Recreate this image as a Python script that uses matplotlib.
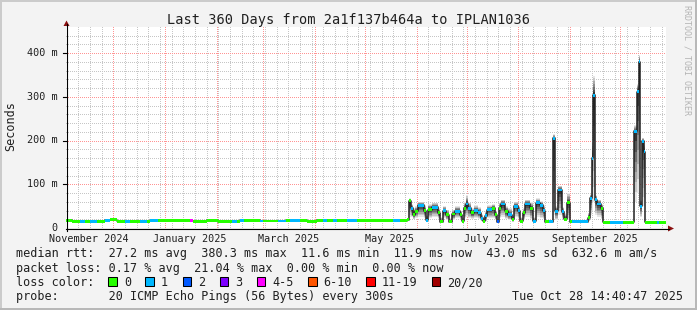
import datetime as dt
import numpy as np
import matplotlib
matplotlib.use('Agg')
import matplotlib.pyplot as plt
from matplotlib.patches import Rectangle, Polygon
from matplotlib import transforms

W, H = 697, 310
start = dt.datetime(2024, 11, 2, 14, 40, 47)
span_days = 360
y_top = 460

# median rtt per segment (segment start in days since start), values in ms
seg_day = [0, 3.6, 8.4, 11.4, 14.4, 18.6, 23.4, 26.4, 30.6, 35.4, 38.4, 44.4, 48.6, 50.4,
           55.2, 69.6, 74.4, 76.2, 84.6, 91.2, 98.4, 99.6, 102.6, 104.4, 106.8, 116.4, 118.2,
           127.2, 132.0, 134.4, 140.4, 144.6, 150.6, 154.2, 156.6, 160.2, 162.6, 168.6, 174.6,
           196.2, 200.4, 204.6,
           205.8, 207.0, 208.2, 209.4, 211.2, 214.8, 216.0, 217.2, 219.6, 223.2, 224.4, 226.2,
           228.0, 229.8, 231.6, 233.4, 236.4, 237.6, 238.8, 240.0, 241.2, 243.0, 244.8, 247.2,
           249.0, 250.2, 251.4, 252.6, 255.6, 257.4, 258.6, 259.8, 261.0, 263.4, 265.2, 267.6,
           268.8, 271.2, 272.4, 274.2, 275.4, 278.4, 280.2, 282.0, 284.4, 286.2, 287.4, 289.8,
           292.2, 293.4, 295.2, 297.6, 298.8, 300.6, 302.4, 303.6, 313.2, 314.4, 315.6, 316.2,
           317.4, 318.6, 321.0, 322.2, 326.4, 334.2, 340.8, 342.6, 343.8, 344.4, 345.6, 346.8,
           347.4, 354.6, 355.8]
seg_median = [18, 15, 15, 15, 15, 15, 18, 19, 15, 15, 15, 15, 15, 18,
              18, 17, 17, 15, 18, 14, 15, 15, 15, 18, 18, 16, 16,
              16, 18, 18, 18, 15, 18, 18, 18, 18, 18, 18, 17,
              17, 17, 19,
              62, 45, 30, 38, 52, 40, 18, 42, 47, 35, 14, 40,
              30, 14, 32, 38, 30, 15, 45, 55, 45, 35, 40, 35,
              22, 15, 28, 42, 45, 30, 14, 45, 55, 38, 30, 20,
              50, 40, 15, 35, 55, 45, 15, 58, 52, 40, 14, 14,
              205, 38, 87, 37, 20, 58, 14, 14, 24, 68, 160, 304,
              65, 55, 45, 13, 13, 13, 221, 312, 381, 50, 198, 175,
              13, 13, 13]
seg_smoke_hi = [19, 16, 16, 16, 16, 16, 19, 20, 16, 16, 16, 16, 16, 19,
                19, 18, 18, 16, 19, 15, 16, 16, 16, 19, 19, 17, 17,
                17, 19, 19, 19, 16, 19, 19, 19, 19, 19, 19, 18,
                18, 18, 20,
                68, 55, 45, 50, 60, 52, 30, 55, 58, 45, 25, 50,
                42, 22, 42, 50, 40, 25, 60, 75, 58, 45, 52, 48,
                32, 25, 38, 52, 55, 40, 22, 58, 65, 50, 45, 30,
                60, 50, 25, 45, 65, 60, 25, 68, 62, 52, 16, 16,
                215, 50, 97, 48, 35, 80, 16, 16, 35, 78, 200, 349,
                75, 65, 55, 15, 15, 15, 235, 330, 396, 65, 207, 190,
                15, 15, 15]
seg_smoke_lo = [17, 14, 14, 14, 14, 14, 17, 18, 14, 14, 14, 14, 14, 17,
                17, 16, 16, 14, 17, 13, 14, 14, 14, 17, 17, 15, 15,
                15, 17, 17, 17, 14, 17, 17, 17, 17, 17, 17, 16,
                16, 16, 18,
                25, 25, 20, 22, 25, 22, 14, 22, 25, 20, 12, 22,
                18, 12, 18, 22, 20, 12, 22, 25, 22, 20, 22, 20,
                15, 12, 15, 22, 22, 18, 12, 22, 25, 20, 18, 14,
                25, 20, 12, 18, 25, 20, 12, 25, 22, 20, 12, 12,
                30, 18, 30, 20, 15, 18, 12, 12, 15, 30, 40, 60,
                30, 25, 20, 11, 11, 11, 60, 80, 100, 25, 50, 50,
                11, 11, 11]
seg_loss = [0, 0, 1, 0, 1, 0, 1, 0, 0, 1, 0, 1, 0, 1,
            0, 0, 4, 0, 0, 0, 0, 1, 0, 1, 0, 1, 0,
            1, 0, 1, 0, 0, 0, 1, 0, 1, 0, 1, 0,
            1, 0, 0,
            0, 1, 0, 0, 1, 0, 1, 0, 1, 0, 0, 1,
            0, 0, 0, 1, 0, 0, 0, 1, 1, 0, 1, 1,
            1, 0, 1, 1, 0, 0, 2, 0, 1, 0, 1, 0,
            1, 1, 0, 0, 1, 0, 1, 1, 1, 1, 0, 1,
            1, 1, 1, 1, 0, 0, 0, 1, 0, 1, 1, 1,
            1, 1, 0, 0, 1, 0, 1, 1, 1, 1, 1, 1,
            0, 1, 0]

loss_labels = ['0', '1', '2', '3', '4-5', '6-10', '11-19', '20/20']
loss_colors = ['#26ff00', '#00b8ff', '#0059ff', '#7e00ff', '#ff00ff', '#ff5500', '#ff0000', '#a10000']

y_ticks = [0, 100, 200, 300, 400]
y_tick_labels = ['0', '100 m', '200 m', '300 m', '400 m']
month_labels = [(2024, 11, 'November 2024'), (2025, 1, 'January 2025'), (2025, 3, 'March 2025'),
                (2025, 5, 'May 2025'), (2025, 7, 'July 2025'), (2025, 9, 'September 2025')]

title = 'Last 360 Days from 2a1f137b464a to IPLAN1036'
line_rtt = 'median rtt:  27.2 ms avg  380.3 ms max  11.6 ms min  11.9 ms now  43.0 ms sd  632.6 m am/s'
line_loss = 'packet loss: 0.17 % avg  21.04 % max  0.00 % min  0.00 % now'
line_probe = 'probe:       20 ICMP Echo Pings (56 Bytes) every 300s'
stamp = 'Tue Oct 28 14:40:47 2025'

mono = 'DejaVu Sans Mono'
txt = '#202020'


def days(t):
    return (t - start).total_seconds() / 86400.0


def fx(x):
    return x / W


def fy(y):
    return 1 - y / H


# plot area in pixels: x 66..666, y 27..228
PW, PH = 600, 201
fig = plt.figure(figsize=(W / 100, H / 100), dpi=100, facecolor='#f3f3f3')
ax = fig.add_axes([fx(66), fy(228), PW / W, PH / H])
ax.set_xlim(0, span_days)
ax.set_ylim(0, y_top)
ax.set_facecolor('white')
for s in ax.spines.values():
    s.set_visible(False)
ax.set_xticks([])
ax.set_yticks([])

# dotted grid built pixel by pixel (weekly / monthly columns, 20 m / 100 m rows)
grid = np.zeros((PH, PW, 4))
minor_c = np.array([0.78, 0.78, 0.78, 1.0])
major_c = np.array([1.0, 0.58, 0.58, 1.0])


def col_of(d):
    return int(round(d / span_days * PW))


def row_of(v):
    return int(round((1 - v / y_top) * PH))


week_cols = []
t = dt.datetime(2024, 11, 3)
while days(t) < span_days:
    week_cols.append(col_of(days(t)))
    t += dt.timedelta(days=7)
month_cols = []
yy, mm = 2024, 12
while days(dt.datetime(yy, mm, 1)) < span_days:
    month_cols.append(col_of(days(dt.datetime(yy, mm, 1))))
    mm += 1
    if mm > 12:
        yy, mm = yy + 1, 1
minor_rows = [row_of(v) for v in range(20, y_top, 20) if v % 100]
major_rows = [row_of(v) for v in y_ticks[1:]]
for c in week_cols:
    if 0 < c < PW:
        grid[0::2, c] = minor_c
for r in minor_rows:
    grid[r, 0::2] = minor_c
for c in month_cols:
    if 0 < c < PW:
        grid[0::2, c] = major_c
for r in major_rows:
    grid[r, 0::2] = major_c
ax.imshow(grid, extent=(0, span_days, 0, y_top), aspect='auto', interpolation='nearest',
          zorder=0.5)

# smoke, median line and loss-coloured median
edges = np.array(seg_day + [span_days])
med = np.array(seg_median + [seg_median[-1]], dtype=float)
hi = np.array(seg_smoke_hi + [seg_smoke_hi[-1]], dtype=float)
lo = np.array(seg_smoke_lo + [seg_smoke_lo[-1]], dtype=float)
n_layers = 7
grays = np.linspace(0.9, 0.2, n_layers)
for k, g in enumerate(grays):
    f = 1 - k / n_layers
    ax.fill_between(edges, med - f * (med - lo), med + f * (hi - med), step='post',
                    color=str(g), lw=0, zorder=2)
ax.step(edges, med, where='post', color='#202020', lw=1.1, zorder=3)
band = 6.5
ax.bar(seg_day, band, width=np.diff(edges), bottom=np.array(seg_median) - band / 2,
       align='edge', color=[loss_colors[i] for i in seg_loss], lw=0, zorder=4)

# axes lines and arrows
fig.add_artist(plt.Line2D([fx(66), fx(669)], [fy(228.5), fy(228.5)], color='black', lw=0.8))
fig.add_artist(plt.Line2D([fx(66.5), fx(66.5)], [fy(231), fy(24)], color='black', lw=0.8))
fig.add_artist(Polygon([[fx(668), fy(225.5)], [fx(668), fy(231.5)], [fx(674), fy(228.5)]],
                       closed=True, color='#8b1010', lw=0))
fig.add_artist(Polygon([[fx(63.5), fy(26)], [fx(69.5), fy(26)], [fx(66.5), fy(20.5)]],
                       closed=True, color='#8b1010', lw=0))

# y tick labels and ticks
ylab = transforms.blended_transform_factory(fig.transFigure, ax.transData)
ylab = transforms.offset_copy(ylab, fig=fig, y=-2.7, units='dots')
for v, lab in zip(y_ticks, y_tick_labels):
    fig.text(fx(58), v, lab, transform=ylab, ha='right', va='baseline',
             family=mono, fontsize=7.3, color=txt)
    if v:
        ax.plot([-3 * 0.6, 0], [v, v], color='black', lw=0.8, clip_on=False, zorder=5)

# x labels, centred around mid-month
xlab = transforms.blended_transform_factory(ax.transData, fig.transFigure)
for yy, mm, lab in month_labels:
    fig.text(days(dt.datetime(yy, mm, 16)), fy(241.7), lab, transform=xlab, ha='center',
             va='baseline', family=mono, fontsize=7.3, color=txt)

fig.text(fx(348.5), fy(24), title, ha='center', va='baseline', family=mono, fontsize=9.8,
         color=txt)
fig.text(fx(10.5), fy(126), 'Seconds', rotation=90, ha='center', va='center', family=mono,
         fontsize=8.5, color=txt)
fig.text(fx(687.5), fy(5), 'RRDTOOL / TOBI OETIKER', rotation=270, ha='center', va='top',
         family=mono, fontsize=6, color='#b4b4b4')

# legend
fig.text(fx(15.5), fy(257.5), line_rtt, ha='left', va='baseline', family=mono, fontsize=8.5,
         color=txt)
fig.text(fx(15.5), fy(271.7), line_loss, ha='left', va='baseline', family=mono, fontsize=8.5,
         color=txt)
fig.text(fx(15.5), fy(286), 'loss color:', ha='left', va='baseline', family=mono, fontsize=8.5,
         color=txt)
bx = 108.3
for lab, col in zip(loss_labels, loss_colors):
    fig.add_artist(Rectangle((fx(bx), fy(286)), 8.5 / W, 9 / H, facecolor=col,
                             edgecolor='black', lw=0.75))
    fig.text(fx(bx + 15.5), fy(286), lab, ha='left', va='baseline', family=mono,
             fontsize=8.5, color=txt)
    bx += 30 + 7.1 * len(lab)
fig.text(fx(15.5), fy(300), line_probe, ha='left', va='baseline', family=mono, fontsize=8.5,
         color=txt)
fig.text(fx(512.5), fy(300), stamp, ha='left', va='baseline', family=mono, fontsize=8.5,
         color=txt)

# image frame
fig.add_artist(Rectangle((0, 1 - 2 / H), 1, 2 / H, color='#cbcbcb', lw=0))
fig.add_artist(Rectangle((0, 0), 2 / W, 1, color='#cbcbcb', lw=0))
fig.add_artist(Rectangle((0, 0), 1, 2 / H, color='#b8b8b8', lw=0))
fig.add_artist(Rectangle((1 - 2 / W, 0), 2 / W, 1, color='#b8b8b8', lw=0))

fig.savefig('out.png', dpi=100, facecolor=fig.get_facecolor())
